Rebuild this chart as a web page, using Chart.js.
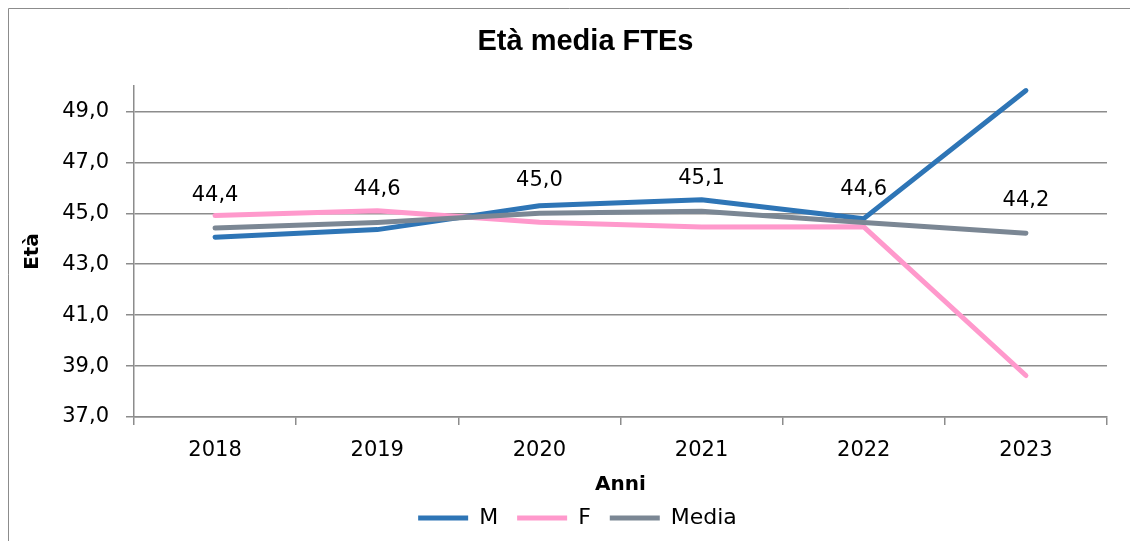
<!DOCTYPE html>
<html>
<head>
<meta charset="utf-8">
<script src="https://cdn.jsdelivr.net/npm/chart.js@4.4.1/dist/chart.umd.min.js"></script>
<style>
  html, body { margin: 0; padding: 0; background: #fff; overflow: hidden; }
</style>
</head>
<body>
<canvas id="mycanvas" width="1130" height="541"></canvas>
<script>
var anni = ['2018', '2019', '2020', '2021', '2022', '2023'];
var etaM = [44.06, 44.36, 45.3, 45.53, 44.79, 49.82];
var etaF = [44.91, 45.1, 44.65, 44.46, 44.47, 38.63];
var etaMedia = [44.42, 44.64, 45.0, 45.08, 44.64, 44.22];
var yTicks = [37, 39, 41, 43, 45, 47, 49];

var fmt = function(v) { return v.toFixed(1).replace('.', ','); };
var fontFam = '"DejaVu Sans", sans-serif';
var gridCol = '#8c8c8c';

// outer frame, only top and left edges are visible in the original
var frame = {
  id: 'frame',
  beforeDraw: function(chart) {
    var c = chart.ctx;
    c.save();
    c.strokeStyle = '#8c8c8c';
    c.lineWidth = 1;
    c.beginPath();
    c.moveTo(8.5, chart.height);
    c.lineTo(8.5, 8.5);
    c.lineTo(chart.width, 8.5);
    c.stroke();
    c.restore();
  }
};

// labels above the Media line
var mediaLabels = {
  id: 'mediaLabels',
  afterDatasetsDraw: function(chart) {
    var ctx = chart.ctx;
    var meta = chart.getDatasetMeta(2);
    ctx.save();
    ctx.font = '21px ' + fontFam;
    ctx.fillStyle = '#000';
    ctx.textAlign = 'center';
    ctx.textBaseline = 'middle';
    meta.data.forEach(function(pt, i) {
      ctx.fillText(fmt(etaMedia[i]), pt.x, pt.y - 33);
    });
    ctx.restore();
  }
};

// title and legend sit right of the canvas centre in the original
var shiftBoxes = {
  id: 'shiftBoxes',
  afterLayout: function(chart) {
    chart.legend.left += 24;
    chart.legend.right += 24;
    chart.titleBlock.left += 32;
    chart.titleBlock.right += 32;
  }
};

var lineStyle = { borderWidth: 5, borderCapStyle: 'round', borderJoinStyle: 'round', tension: 0, pointRadius: 0, pointHoverRadius: 0 };

var chartdata = {
  labels: anni,
  datasets: [
    Object.assign({ label: 'M', data: etaM, order: 2, borderColor: '#2E75B6', backgroundColor: '#2E75B6' }, lineStyle),
    Object.assign({ label: 'F', data: etaF, order: 1, borderColor: '#FF99CC', backgroundColor: '#FF99CC' }, lineStyle),
    Object.assign({ label: 'Media', data: etaMedia, order: 0, borderColor: '#7B8794', backgroundColor: '#7B8794' }, lineStyle)
  ]
};

var ctx = document.getElementById('mycanvas');

var lineGraph = new Chart(ctx, {
  type: 'line',
  data: chartdata,
  plugins: [frame, mediaLabels, shiftBoxes],
  options: {
    responsive: false,
    animation: false,
    devicePixelRatio: 1,
    layout: { padding: { top: 0, left: 0, right: 23, bottom: 2 } },
    plugins: {
      title: {
        display: true,
        text: 'Età media FTEs',
        color: '#000',
        font: { family: '"Liberation Sans", Arial, sans-serif', size: 29, weight: 'bold' },
        padding: { top: 25, bottom: 26.2 }
      },
      legend: {
        position: 'bottom',
        labels: {
          usePointStyle: true,
          pointStyle: 'line',
          pointStyleWidth: 50,
          color: '#000',
          font: { family: fontFam, size: 22 },
          padding: 19,
          sort: function(a, b) { return a.datasetIndex - b.datasetIndex; }
        }
      },
      tooltip: { enabled: false }
    },
    scales: {
      x: {
        offset: true,
        grid: { offset: true, drawOnChartArea: false, tickLength: 8, color: gridCol, lineWidth: 1.5 },
        border: { color: gridCol, width: 1.5 },
        ticks: { color: '#000', font: { family: fontFam, size: 21 }, padding: 13, maxRotation: 0 },
        title: {
          display: true, text: 'Anni', color: '#000',
          font: { family: fontFam, size: 20, weight: 'bold' },
          padding: { top: 0, bottom: -9 }
        },
        afterFit: function(s) { s.height = 71; }
      },
      y: {
        min: 37,
        max: 50,
        afterBuildTicks: function(s) { s.ticks = yTicks.map(function(v) { return { value: v }; }); },
        grid: { color: gridCol, lineWidth: 1.5, tickLength: 8 },
        border: { color: gridCol, width: 1.5 },
        ticks: { color: '#000', font: { family: fontFam, size: 21 }, padding: 17, callback: function(v) { return fmt(v); } },
        title: {
          display: true, text: 'Età', color: '#000',
          font: { family: fontFam, size: 20, weight: 'bold' },
          padding: { top: 21, bottom: 0 }
        },
        afterFit: function(s) { s.width = 134; }
      }
    }
  }
});
</script>
</body>
</html>
